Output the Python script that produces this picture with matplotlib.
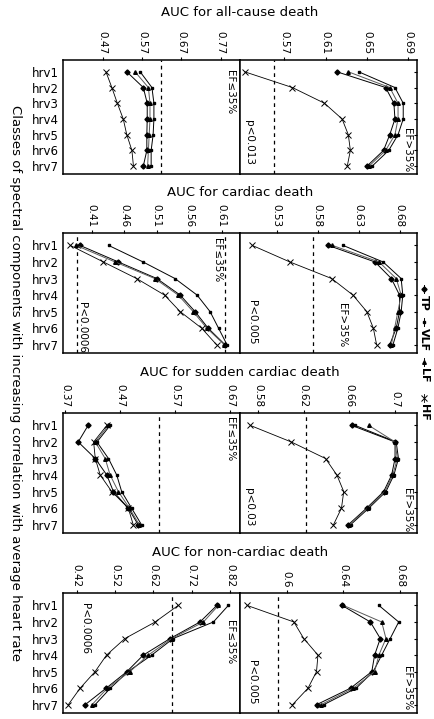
import numpy as np
import matplotlib
matplotlib.use('Agg')
import matplotlib.pyplot as plt
from matplotlib.lines import Line2D

W, H = 434, 719

hrv_labels = ['hrv1', 'hrv2', 'hrv3', 'hrv4', 'hrv5', 'hrv6', 'hrv7']
series_names = ['TP', 'VLF', 'LF', 'HF']

# AUC values, EF<=35% (left) and EF>35% (right) for each outcome
allcause_low = {'TP': [0.531, 0.573, 0.583, 0.583, 0.582, 0.582, 0.573],
                'VLF': [0.565, 0.595, 0.600, 0.600, 0.598, 0.593, 0.593],
                'LF': [0.552, 0.586, 0.590, 0.590, 0.588, 0.586, 0.584],
                'HF': [0.478, 0.493, 0.507, 0.522, 0.531, 0.544, 0.548]}
allcause_high = {'TP': [0.621, 0.668, 0.676, 0.677, 0.672, 0.666, 0.650],
                 'VLF': [0.642, 0.677, 0.685, 0.685, 0.680, 0.671, 0.655],
                 'LF': [0.632, 0.672, 0.680, 0.680, 0.677, 0.668, 0.652],
                 'HF': [0.532, 0.578, 0.609, 0.626, 0.632, 0.634, 0.631]}
cardiac_low = {'TP': [0.392, 0.451, 0.510, 0.546, 0.569, 0.589, 0.615],
               'VLF': [0.436, 0.489, 0.538, 0.572, 0.592, 0.605, 0.618],
               'LF': [0.386, 0.446, 0.507, 0.543, 0.566, 0.587, 0.614],
               'HF': [0.377, 0.428, 0.479, 0.522, 0.546, 0.579, 0.602]}
cardiac_high = {'TP': [0.593, 0.650, 0.670, 0.680, 0.680, 0.676, 0.668],
                'VLF': [0.611, 0.660, 0.682, 0.684, 0.682, 0.678, 0.672],
                'LF': [0.598, 0.655, 0.676, 0.682, 0.678, 0.674, 0.670],
                'HF': [0.500, 0.546, 0.597, 0.623, 0.640, 0.648, 0.652]}
sudden_low = {'TP': [0.412, 0.394, 0.425, 0.446, 0.458, 0.485, 0.503],
              'VLF': [0.452, 0.428, 0.449, 0.464, 0.473, 0.491, 0.509],
              'LF': [0.449, 0.425, 0.443, 0.452, 0.467, 0.487, 0.505],
              'HF': [0.446, 0.422, 0.425, 0.434, 0.455, 0.485, 0.494]}
sudden_high = {'TP': [0.662, 0.700, 0.700, 0.697, 0.690, 0.675, 0.659],
               'VLF': [0.665, 0.701, 0.703, 0.699, 0.692, 0.677, 0.661],
               'LF': [0.677, 0.700, 0.702, 0.698, 0.691, 0.676, 0.660],
               'HF': [0.573, 0.609, 0.639, 0.649, 0.655, 0.653, 0.646]}
noncardiac_low = {'TP': [0.786, 0.742, 0.664, 0.594, 0.551, 0.497, 0.442],
                  'VLF': [0.816, 0.777, 0.672, 0.616, 0.554, 0.508, 0.468],
                  'LF': [0.790, 0.751, 0.668, 0.607, 0.559, 0.500, 0.460],
                  'HF': [0.685, 0.625, 0.546, 0.498, 0.468, 0.429, 0.398]}
noncardiac_high = {'TP': [0.639, 0.659, 0.666, 0.662, 0.660, 0.645, 0.621],
                   'VLF': [0.665, 0.679, 0.673, 0.667, 0.661, 0.649, 0.626],
                   'LF': [0.640, 0.667, 0.670, 0.665, 0.662, 0.647, 0.624],
                   'HF': [0.572, 0.605, 0.612, 0.622, 0.621, 0.615, 0.604]}

titles = ['AUC for all-cause death', 'AUC for cardiac death',
          'AUC for sudden cardiac death', 'AUC for non-cardiac death']
left_data = [allcause_low, cardiac_low, sudden_low, noncardiac_low]
right_data = [allcause_high, cardiac_high, sudden_high, noncardiac_high]
left_ticks = [[0.47, 0.57, 0.67, 0.77], [0.41, 0.46, 0.51, 0.56, 0.61],
              [0.37, 0.47, 0.57, 0.67], [0.42, 0.52, 0.62, 0.72, 0.82]]
right_ticks = [[0.57, 0.61, 0.65, 0.69], [0.53, 0.58, 0.63, 0.68],
               [0.58, 0.62, 0.66, 0.7], [0.6, 0.64, 0.68]]
left_xlim = [(0.368, 0.819), (0.3654, 0.638), (0.3658, 0.688), (0.3835, 0.8464)]
right_xlim = [(0.5275, 0.698), (0.485, 0.701), (0.564, 0.719), (0.567, 0.6917)]
left_ref = [[0.618], [0.387, 0.615], [0.5415], [0.6697]]
right_ref = [[0.56], [0.5747], [0.6218], [0.5937]]

styles = {'TP': dict(marker='D', ms=2.6, color='black', lw=0.7),
          'VLF': dict(marker='s', ms=1.8, color='black', lw=0.7),
          'LF': dict(marker='^', ms=2.6, color='0.35', mec='black', mfc='black', lw=0.7),
          'HF': dict(marker='x', ms=4, mew=0.7, color='black', lw=0.6)}

fig = plt.figure(figsize=(W / 100, H / 100), dpi=100)

def fx(px):
    return px / W

def fy(py):
    return 1 - py / H

frames = [(60, 174), (233, 353), (413, 533), (593, 713)]
title_y = [13, 192, 372, 552]
x0, xm, x1 = 62.7, 240, 416.7
y = np.arange(1, 8)

for i in range(4):
    top, bot = frames[i]
    ax_l = fig.add_axes([fx(x0), fy(bot), (xm - x0) / W, (bot - top) / H])
    ax_r = fig.add_axes([fx(xm), fy(bot), (x1 - xm) / W, (bot - top) / H])
    for ax, d, ticks, lim, refs in [(ax_l, left_data[i], left_ticks[i], left_xlim[i], left_ref[i]),
                                    (ax_r, right_data[i], right_ticks[i], right_xlim[i], right_ref[i])]:
        for name in series_names:
            ax.plot(d[name], y, **styles[name])
        for r in refs:
            ax.axvline(r, color='black', ls=(0, (3, 3)), lw=0.9)
        ax.set_xlim(*lim)
        ax.set_ylim(7.5, 0.25)
        ax.xaxis.tick_top()
        ax.set_xticks(ticks)
        ax.set_xticklabels(['{:g}'.format(t) for t in ticks], rotation=-90, fontsize=7.5)
        ax.tick_params(axis='x', direction='out', length=2, pad=2)
        for s in ax.spines.values():
            s.set_linewidth(1.1)
    ax_l.set_yticks(y)
    ax_l.set_yticklabels(hrv_labels, fontsize=8.5)
    ax_l.tick_params(axis='y', length=0, pad=3)
    ax_r.set_yticks(y)
    ax_r.yaxis.tick_right()
    ax_r.tick_params(axis='y', direction='in', length=2.5, labelright=False)
    fig.text(fx(240), fy(title_y[i]), titles[i], ha='center', va='center', fontsize=9.5)

# annotations inside panels
notes = [('EF≤35%', 230, 70, 'top'), ('EF>35%', 407, 172, 'bottom'), ('p<0.013', 249, 120, 'top'),
         ('EF≤35%', 217, 238, 'top'), ('P<0.0006', 82, 302, 'top'), ('P<0.005', 252, 300, 'top'),
         ('EF>35%', 342, 303, 'top'),
         ('EF≤35%', 230, 417, 'top'), ('p<0.03', 249, 488, 'top'), ('EF>35%', 407, 532, 'bottom'),
         ('P<0.0006', 85, 603, 'top'), ('EF≤35%', 230, 620, 'top'), ('P<0.005', 252, 660, 'top'),
         ('EF>35%', 407, 710, 'bottom')]
for txt, px, py, va in notes:
    fig.text(fx(px), fy(py), txt, rotation=-90, ha='center', va=va, fontsize=7.5)

fig.text(fx(15), fy(383), 'Classes of spectral components with increasing correlation with average heart rate',
         rotation=-90, ha='center', va='center', fontsize=9.5)

# legend drawn rotated along the right edge
leg_pos = [('TP', 285), ('VLF', 318), ('LF', 358), ('HF', 394)]
for name, py in leg_pos:
    st = dict(styles[name])
    st['color'] = 'black'
    fig.add_artist(Line2D([fx(424)] * 3, [fy(py), fy(py + 4), fy(py + 8)], transform=fig.transFigure,
                          markevery=[1], **st))
    fig.text(fx(424), fy(py + 10), name, rotation=-90, ha='center', va='top', fontsize=8, fontweight='bold')

fig.savefig('out.png', dpi=100)
